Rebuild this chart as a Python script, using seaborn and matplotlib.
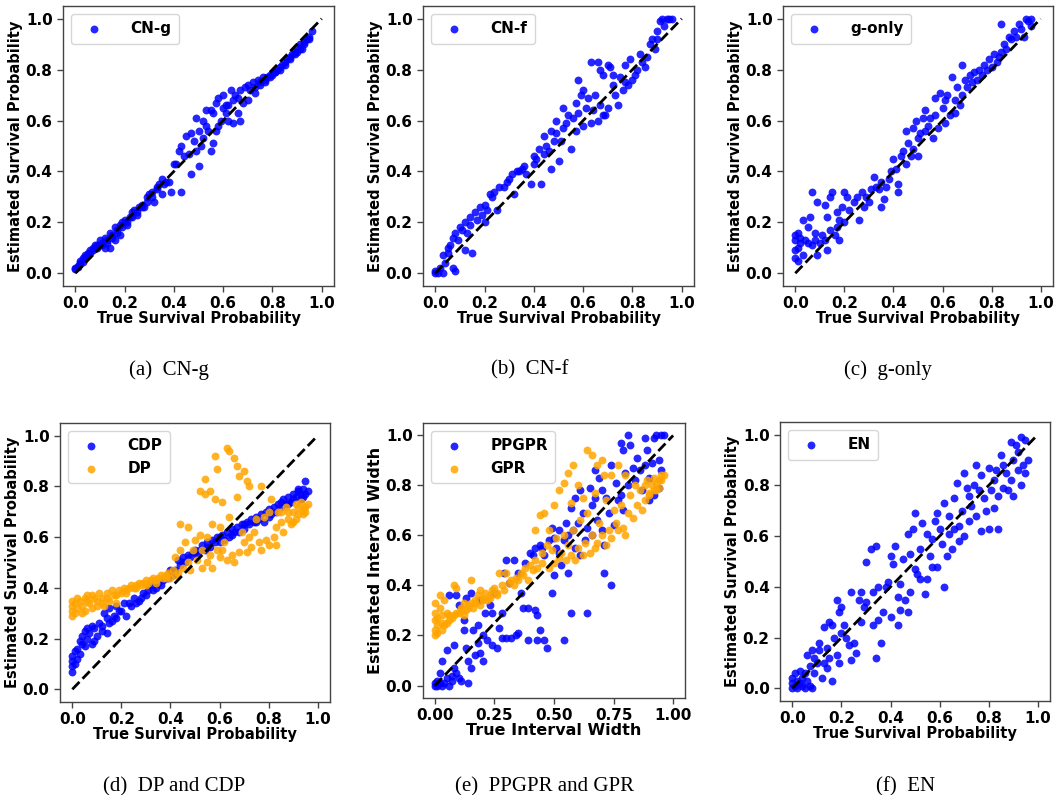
import matplotlib
matplotlib.use("Agg")
import matplotlib.pyplot as plt
import seaborn as sns

# ---------------------------------------------------------------- data
cng_true = [0.00, 0.00, 0.01, 0.01, 0.02, 0.02, 0.03, 0.03, 0.04, 0.04, 0.05, 0.05, 0.06, 0.07, 0.07, 0.08,
            0.09, 0.10, 0.10, 0.11, 0.12, 0.12, 0.13, 0.14, 0.14, 0.15, 0.16, 0.16, 0.17, 0.18, 0.18, 0.19,
            0.20, 0.21, 0.22, 0.23, 0.24, 0.25, 0.26, 0.27, 0.28, 0.29, 0.30, 0.31, 0.32, 0.33, 0.34, 0.35,
            0.35, 0.37, 0.38, 0.39, 0.40, 0.41, 0.42, 0.43, 0.43, 0.44, 0.45, 0.46, 0.47, 0.47, 0.48, 0.49,
            0.49, 0.50, 0.50, 0.51, 0.52, 0.53, 0.53, 0.54, 0.55, 0.56, 0.56, 0.57, 0.57, 0.58, 0.58, 0.59,
            0.60, 0.60, 0.61, 0.62, 0.62, 0.63, 0.64, 0.64, 0.65, 0.66, 0.67, 0.67, 0.68, 0.69, 0.70, 0.70,
            0.72, 0.73, 0.74, 0.75, 0.76, 0.77, 0.78, 0.79, 0.80, 0.81, 0.82, 0.83, 0.84, 0.85, 0.86, 0.87,
            0.88, 0.89, 0.90, 0.90, 0.91, 0.92, 0.93, 0.94, 0.95, 0.96,
            0.02, 0.04, 0.06, 0.08, 0.09, 0.11, 0.13, 0.15, 0.17, 0.19, 0.21, 0.23, 0.25, 0.27, 0.29, 0.31,
            0.33, 0.36, 0.71, 0.73, 0.75, 0.77, 0.79, 0.81, 0.83, 0.85, 0.87, 0.89, 0.91, 0.93, 0.95, 0.66,
            0.61, 0.55, 0.52]
cng_est = [0.015, 0.02, 0.03, 0.025, 0.04, 0.05, 0.045, 0.06, 0.06, 0.07, 0.08, 0.07, 0.09, 0.09, 0.10, 0.11,
           0.10, 0.13, 0.11, 0.12, 0.10, 0.14, 0.12, 0.16, 0.10, 0.14, 0.18, 0.13, 0.17, 0.19, 0.15, 0.20,
           0.21, 0.19, 0.22, 0.24, 0.25, 0.23, 0.26, 0.27, 0.26, 0.30, 0.31, 0.32, 0.28, 0.34, 0.35, 0.37,
           0.31, 0.36, 0.36, 0.32, 0.43, 0.43, 0.48, 0.32, 0.50, 0.46, 0.54, 0.47, 0.55, 0.39, 0.52, 0.61,
           0.48, 0.42, 0.56, 0.50, 0.53, 0.64, 0.58, 0.56, 0.48, 0.63, 0.51, 0.67, 0.56, 0.69, 0.58, 0.60,
           0.70, 0.65, 0.63, 0.66, 0.60, 0.72, 0.68, 0.59, 0.70, 0.63, 0.72, 0.60, 0.67, 0.73, 0.68, 0.74,
           0.75, 0.71, 0.76, 0.74, 0.77, 0.75, 0.77, 0.78, 0.78, 0.79, 0.80, 0.81, 0.82, 0.83, 0.84, 0.85,
           0.86, 0.87, 0.87, 0.89, 0.90, 0.88, 0.91, 0.92, 0.93, 0.95,
           0.035, 0.065, 0.08, 0.10, 0.11, 0.11, 0.13, 0.15, 0.16, 0.18, 0.20, 0.22, 0.24, 0.26, 0.28, 0.30,
           0.33, 0.35, 0.72, 0.73, 0.75, 0.76, 0.77, 0.79, 0.80, 0.82, 0.84, 0.86, 0.88, 0.90, 0.92, 0.69,
           0.66, 0.64, 0.60]

cnf_true = [0.00, 0.00, 0.01, 0.02, 0.03, 0.03, 0.04, 0.05, 0.05, 0.06, 0.07, 0.07, 0.08, 0.08, 0.09, 0.10,
            0.11, 0.12, 0.12, 0.13, 0.14, 0.14, 0.15, 0.16, 0.17, 0.18, 0.19, 0.20, 0.20, 0.21, 0.22, 0.23,
            0.24, 0.25, 0.26, 0.28, 0.29, 0.30, 0.31, 0.32, 0.33, 0.34, 0.35, 0.36, 0.37, 0.39, 0.40, 0.40,
            0.41, 0.42, 0.43, 0.44, 0.44, 0.45, 0.46, 0.47, 0.47, 0.48, 0.49, 0.49, 0.50, 0.51, 0.52, 0.52,
            0.53, 0.54, 0.55, 0.56, 0.57, 0.57, 0.58, 0.58, 0.59, 0.60, 0.60, 0.61, 0.62, 0.63, 0.63, 0.64,
            0.65, 0.66, 0.66, 0.67, 0.67, 0.68, 0.68, 0.69, 0.70, 0.70, 0.71, 0.72, 0.72, 0.73, 0.74, 0.75,
            0.76, 0.77, 0.77, 0.78, 0.79, 0.80, 0.81, 0.82, 0.83, 0.84, 0.85, 0.86, 0.87, 0.88, 0.89, 0.90,
            0.90, 0.91, 0.92, 0.93, 0.94, 0.95, 0.96]
cnf_est = [0.00, 0.01, 0.00, 0.02, 0.00, 0.07, 0.04, 0.10, 0.08, 0.11, 0.14, 0.02, 0.01, 0.16, 0.13, 0.18,
           0.17, 0.09, 0.20, 0.16, 0.22, 0.19, 0.08, 0.24, 0.21, 0.26, 0.23, 0.27, 0.20, 0.25, 0.31, 0.30,
           0.32, 0.25, 0.34, 0.34, 0.36, 0.37, 0.39, 0.31, 0.40, 0.40, 0.41, 0.42, 0.39, 0.35, 0.46, 0.43,
           0.45, 0.49, 0.35, 0.54, 0.47, 0.50, 0.48, 0.56, 0.41, 0.52, 0.60, 0.55, 0.44, 0.52, 0.65, 0.57,
           0.59, 0.62, 0.49, 0.61, 0.67, 0.56, 0.76, 0.63, 0.70, 0.72, 0.58, 0.65, 0.69, 0.83, 0.59, 0.64,
           0.70, 0.83, 0.60, 0.80, 0.66, 0.78, 0.62, 0.62, 0.82, 0.65, 0.81, 0.74, 0.78, 0.70, 0.66, 0.77,
           0.72, 0.82, 0.75, 0.74, 0.84, 0.76, 0.78, 0.80, 0.86, 0.83, 0.81, 0.85, 0.90, 0.92, 0.88, 0.95,
           0.92, 0.99, 1.00, 0.97, 1.00, 1.00, 1.00]

gonly_true = [0.00, 0.00, 0.00, 0.00, 0.01, 0.01, 0.01, 0.02, 0.02, 0.03, 0.03, 0.04, 0.05, 0.05, 0.06, 0.07,
              0.07, 0.08, 0.08, 0.09, 0.09, 0.10, 0.11, 0.12, 0.12, 0.13, 0.13, 0.14, 0.14, 0.15, 0.16, 0.17,
              0.17, 0.18, 0.18, 0.19, 0.20, 0.20, 0.21, 0.22, 0.24, 0.25, 0.26, 0.27, 0.28, 0.29, 0.30, 0.31,
              0.32, 0.33, 0.34, 0.35, 0.35, 0.36, 0.37, 0.38, 0.39, 0.40, 0.41, 0.42, 0.42, 0.43, 0.44, 0.45,
              0.45, 0.46, 0.47, 0.48, 0.48, 0.49, 0.50, 0.50, 0.51, 0.52, 0.53, 0.53, 0.54, 0.55, 0.56, 0.57,
              0.57, 0.58, 0.59, 0.60, 0.61, 0.61, 0.62, 0.63, 0.64, 0.65, 0.65, 0.66, 0.67, 0.68, 0.68, 0.69,
              0.70, 0.71, 0.72, 0.73, 0.74, 0.75, 0.76, 0.77, 0.78, 0.79, 0.80, 0.81, 0.82, 0.83, 0.84, 0.84,
              0.85, 0.86, 0.87, 0.88, 0.89, 0.90, 0.91, 0.92, 0.93, 0.94, 0.95, 0.96, 0.96]
gonly_est = [0.06, 0.09, 0.13, 0.15, 0.05, 0.10, 0.16, 0.12, 0.14, 0.07, 0.21, 0.13, 0.12, 0.18, 0.22, 0.11,
             0.32, 0.16, 0.13, 0.07, 0.28, 0.12, 0.15, 0.13, 0.27, 0.09, 0.22, 0.30, 0.17, 0.32, 0.15, 0.18,
             0.24, 0.21, 0.13, 0.26, 0.20, 0.32, 0.30, 0.25, 0.28, 0.30, 0.21, 0.32, 0.26, 0.30, 0.28, 0.33,
             0.38, 0.34, 0.33, 0.26, 0.36, 0.29, 0.34, 0.37, 0.40, 0.45, 0.41, 0.35, 0.32, 0.46, 0.48, 0.43,
             0.56, 0.51, 0.46, 0.57, 0.49, 0.60, 0.53, 0.46, 0.55, 0.61, 0.64, 0.56, 0.58, 0.61, 0.53, 0.69,
             0.62, 0.57, 0.71, 0.65, 0.68, 0.59, 0.70, 0.62, 0.77, 0.68, 0.63, 0.73, 0.66, 0.82, 0.70, 0.76,
             0.73, 0.78, 0.75, 0.79, 0.76, 0.80, 0.78, 0.82, 0.80, 0.84, 0.81, 0.86, 0.83, 0.85, 0.98, 0.87,
             0.90, 0.88, 0.93, 0.92, 0.95, 0.93, 0.98, 0.96, 0.93, 1.00, 0.99, 1.00, 0.97]

cdp_true = [0.00, 0.00, 0.00, 0.00, 0.01, 0.01, 0.02, 0.03, 0.03, 0.04, 0.05, 0.05, 0.06, 0.07, 0.08, 0.08,
            0.09, 0.10, 0.11, 0.12, 0.13, 0.14, 0.14, 0.15, 0.16, 0.17, 0.18, 0.19, 0.20, 0.21, 0.22, 0.23,
            0.24, 0.25, 0.27, 0.28, 0.29, 0.30, 0.32, 0.33, 0.34, 0.35, 0.36, 0.38, 0.39, 0.40, 0.41, 0.42,
            0.43, 0.44, 0.45, 0.46, 0.47, 0.48, 0.49, 0.50, 0.51, 0.52, 0.53, 0.54, 0.55, 0.56, 0.57, 0.58,
            0.59, 0.60, 0.61, 0.62, 0.63, 0.64, 0.65, 0.66, 0.67, 0.68, 0.69, 0.70, 0.71, 0.72, 0.73, 0.74,
            0.75, 0.76, 0.77, 0.78, 0.79, 0.80, 0.81, 0.82, 0.83, 0.84, 0.85, 0.86, 0.87, 0.88, 0.89, 0.90,
            0.91, 0.92, 0.93, 0.94, 0.95, 0.95, 0.96,
            0.02, 0.04, 0.06, 0.09, 0.12, 0.15, 0.18, 0.26, 0.31, 0.37, 0.45, 0.50, 0.55, 0.60, 0.65, 0.70,
            0.75, 0.80, 0.85, 0.88, 0.90, 0.92, 0.93, 0.94]
cdp_est = [0.07, 0.09, 0.11, 0.13, 0.10, 0.15, 0.12, 0.19, 0.14, 0.21, 0.17, 0.23, 0.20, 0.22, 0.18, 0.25,
           0.24, 0.21, 0.26, 0.25, 0.30, 0.22, 0.28, 0.32, 0.27, 0.29, 0.33, 0.31, 0.31, 0.34, 0.29, 0.34,
           0.33, 0.36, 0.35, 0.36, 0.38, 0.37, 0.41, 0.39, 0.40, 0.42, 0.41, 0.44, 0.44, 0.47, 0.45, 0.47,
           0.51, 0.49, 0.52, 0.50, 0.53, 0.52, 0.54, 0.55, 0.53, 0.55, 0.57, 0.55, 0.58, 0.56, 0.59, 0.58,
           0.60, 0.58, 0.61, 0.59, 0.62, 0.60, 0.63, 0.62, 0.64, 0.62, 0.65, 0.63, 0.66, 0.65, 0.67, 0.66,
           0.68, 0.67, 0.69, 0.66, 0.70, 0.71, 0.69, 0.72, 0.70, 0.73, 0.72, 0.75, 0.73, 0.76, 0.74, 0.77,
           0.76, 0.78, 0.75, 0.79, 0.82, 0.77, 0.78,
           0.16, 0.18, 0.24, 0.19, 0.23, 0.26, 0.28, 0.34, 0.39, 0.43, 0.50, 0.54, 0.56, 0.60, 0.61, 0.65,
           0.66, 0.68, 0.74, 0.73, 0.75, 0.79, 0.77, 0.76]

dp_true = [0.00, 0.00, 0.00, 0.01, 0.01, 0.02, 0.03, 0.04, 0.05, 0.05, 0.06, 0.07, 0.08, 0.08, 0.09, 0.10,
           0.11, 0.12, 0.13, 0.14, 0.15, 0.16, 0.17, 0.18, 0.19, 0.20, 0.21, 0.22, 0.23, 0.24, 0.25, 0.26,
           0.27, 0.28, 0.29, 0.30, 0.31, 0.32, 0.33, 0.34, 0.35, 0.36, 0.37, 0.38, 0.39, 0.40, 0.41, 0.42,
           0.43, 0.44, 0.44, 0.45, 0.46, 0.47, 0.47, 0.48, 0.49, 0.50, 0.51, 0.52, 0.52, 0.53, 0.53, 0.54,
           0.54, 0.55, 0.55, 0.56, 0.56, 0.57, 0.57, 0.58, 0.58, 0.59, 0.59, 0.60, 0.60, 0.61, 0.61, 0.62,
           0.63, 0.63, 0.64, 0.64, 0.65, 0.66, 0.66, 0.67, 0.67, 0.68, 0.68, 0.69, 0.70, 0.70, 0.71, 0.71,
           0.72, 0.72, 0.73, 0.74, 0.75, 0.76, 0.77, 0.77, 0.78, 0.79, 0.80, 0.80, 0.81, 0.82, 0.83, 0.83,
           0.84, 0.85, 0.86, 0.87, 0.88, 0.89, 0.90, 0.91, 0.91, 0.92, 0.93, 0.94, 0.95, 0.96,
           0.00, 0.02, 0.04, 0.06, 0.10, 0.12, 0.14, 0.18, 0.22, 0.26, 0.30, 0.34, 0.38, 0.42, 0.85, 0.88,
           0.90, 0.92, 0.94, 0.95]
dp_est = [0.29, 0.31, 0.33, 0.30, 0.34, 0.32, 0.35, 0.33, 0.36, 0.31, 0.35, 0.34, 0.37, 0.32, 0.36, 0.35,
          0.38, 0.36, 0.33, 0.38, 0.35, 0.39, 0.37, 0.34, 0.39, 0.38, 0.40, 0.39, 0.40, 0.41, 0.40, 0.41,
          0.42, 0.41, 0.42, 0.43, 0.42, 0.43, 0.44, 0.43, 0.44, 0.45, 0.44, 0.45, 0.46, 0.44, 0.47, 0.52,
          0.46, 0.65, 0.55, 0.48, 0.58, 0.64, 0.50, 0.47, 0.55, 0.59, 0.51, 0.61, 0.78, 0.48, 0.55, 0.83,
          0.77, 0.60, 0.50, 0.78, 0.53, 0.65, 0.48, 0.92, 0.75, 0.87, 0.55, 0.64, 0.52, 0.74, 0.55, 0.58,
          0.95, 0.51, 0.94, 0.68, 0.53, 0.91, 0.50, 0.88, 0.76, 0.84, 0.54, 0.62, 0.86, 0.58, 0.82, 0.54,
          0.80, 0.60, 0.56, 0.62, 0.67, 0.58, 0.80, 0.55, 0.68, 0.59, 0.57, 0.70, 0.75, 0.60, 0.64, 0.57,
          0.70, 0.66, 0.62, 0.72, 0.67, 0.65, 0.70, 0.73, 0.67, 0.69, 0.74, 0.71, 0.72, 0.73,
          0.35, 0.36, 0.30, 0.37, 0.33, 0.34, 0.36, 0.37, 0.38, 0.40, 0.41, 0.42, 0.44, 0.45, 0.70, 0.70,
          0.66, 0.72, 0.69, 0.70]

ppgpr_true = [0.00, 0.00, 0.01, 0.01, 0.02, 0.02, 0.03, 0.03, 0.04, 0.05, 0.05, 0.06, 0.06, 0.07, 0.07, 0.08,
              0.08, 0.09, 0.09, 0.10, 0.10, 0.11, 0.12, 0.12, 0.13, 0.13, 0.14, 0.14, 0.15, 0.15, 0.16, 0.17,
              0.18, 0.18, 0.19, 0.19, 0.20, 0.20, 0.21, 0.22, 0.23, 0.24, 0.24, 0.25, 0.26, 0.27, 0.28, 0.28,
              0.29, 0.30, 0.30, 0.31, 0.32, 0.33, 0.34, 0.35, 0.35, 0.36, 0.37, 0.38, 0.39, 0.39, 0.40, 0.41,
              0.42, 0.42, 0.43, 0.43, 0.44, 0.44, 0.45, 0.46, 0.46, 0.47, 0.48, 0.49, 0.49, 0.50, 0.50, 0.51,
              0.52, 0.52, 0.53, 0.54, 0.54, 0.55, 0.56, 0.56, 0.57, 0.57, 0.58, 0.59, 0.59, 0.60, 0.61, 0.61,
              0.62, 0.63, 0.64, 0.64, 0.65, 0.66, 0.66, 0.67, 0.67, 0.68, 0.69, 0.70, 0.70, 0.71, 0.71, 0.72,
              0.73, 0.74, 0.74, 0.75, 0.76, 0.77, 0.78, 0.78, 0.79, 0.79, 0.80, 0.81, 0.81, 0.82, 0.83, 0.84,
              0.85, 0.86, 0.87, 0.88, 0.88, 0.89, 0.90, 0.90, 0.91, 0.92, 0.92, 0.93, 0.94, 0.94, 0.95, 0.95,
              0.96]
ppgpr_est = [0.00, 0.01, 0.02, 0.00, 0.01, 0.05, 0.00, 0.10, 0.01, 0.03, 0.14, 0.00, 0.36, 0.04, 0.02, 0.07,
             0.16, 0.05, 0.36, 0.03, 0.32, 0.02, 0.22, 0.26, 0.15, 0.35, 0.01, 0.10, 0.07, 0.37, 0.22, 0.12,
             0.24, 0.17, 0.13, 0.34, 0.10, 0.20, 0.29, 0.18, 0.32, 0.16, 0.29, 0.37, 0.15, 0.23, 0.19, 0.29,
             0.45, 0.19, 0.50, 0.41, 0.19, 0.50, 0.20, 0.45, 0.21, 0.37, 0.31, 0.49, 0.31, 0.18, 0.53, 0.52,
             0.30, 0.55, 0.18, 0.28, 0.22, 0.56, 0.55, 0.52, 0.18, 0.15, 0.58, 0.37, 0.63, 0.59, 0.44, 0.55,
             0.62, 0.53, 0.48, 0.18, 0.58, 0.65, 0.60, 0.45, 0.29, 0.71, 0.62, 0.75, 0.55, 0.65, 0.78, 0.52,
             0.69, 0.58, 0.29, 0.63, 0.79, 0.72, 0.60, 0.86, 0.75, 0.66, 0.83, 0.62, 0.78, 0.45, 0.56, 0.75,
             0.69, 0.40, 0.88, 0.64, 0.81, 0.74, 0.97, 0.76, 0.94, 0.70, 0.85, 1.00, 0.80, 0.96, 0.87, 0.82,
             0.91, 0.86, 0.78, 0.99, 0.88, 0.94, 0.83, 0.74, 0.89, 0.99, 0.76, 1.00, 0.90, 0.79, 1.00, 0.86,
             1.00]

gpr_true = [0.00, 0.00, 0.00, 0.00, 0.00, 0.01, 0.01, 0.02, 0.02, 0.03, 0.03, 0.04, 0.04, 0.05, 0.05, 0.06,
            0.07, 0.08, 0.08, 0.09, 0.10, 0.11, 0.12, 0.12, 0.13, 0.14, 0.15, 0.15, 0.16, 0.17, 0.18, 0.19,
            0.19, 0.20, 0.21, 0.22, 0.23, 0.24, 0.25, 0.26, 0.27, 0.28, 0.29, 0.30, 0.31, 0.32, 0.33, 0.34,
            0.35, 0.36, 0.37, 0.38, 0.39, 0.40, 0.41, 0.42, 0.42, 0.43, 0.44, 0.45, 0.45, 0.46, 0.47, 0.48,
            0.48, 0.49, 0.50, 0.50, 0.51, 0.52, 0.52, 0.53, 0.54, 0.54, 0.55, 0.56, 0.56, 0.57, 0.57, 0.58,
            0.58, 0.59, 0.60, 0.60, 0.61, 0.62, 0.62, 0.63, 0.64, 0.64, 0.65, 0.66, 0.66, 0.67, 0.67, 0.68,
            0.68, 0.69, 0.70, 0.70, 0.71, 0.72, 0.72, 0.73, 0.74, 0.74, 0.75, 0.76, 0.77, 0.77, 0.78, 0.79,
            0.80, 0.80, 0.81, 0.82, 0.83, 0.84, 0.85, 0.86, 0.87, 0.88, 0.89, 0.90, 0.91, 0.92, 0.93, 0.94,
            0.95, 0.96,
            0.01, 0.03, 0.06, 0.09, 0.11, 0.14, 0.17, 0.20, 0.23, 0.26, 0.88, 0.90, 0.92, 0.93, 0.94, 0.95]
gpr_est = [0.20, 0.22, 0.26, 0.29, 0.33, 0.21, 0.24, 0.31, 0.36, 0.22, 0.28, 0.24, 0.34, 0.25, 0.29, 0.26,
           0.27, 0.28, 0.40, 0.39, 0.29, 0.31, 0.28, 0.33, 0.30, 0.32, 0.33, 0.42, 0.31, 0.34, 0.36, 0.32,
           0.38, 0.35, 0.37, 0.34, 0.36, 0.38, 0.39, 0.37, 0.45, 0.40, 0.38, 0.45, 0.41, 0.42, 0.40, 0.43,
           0.42, 0.45, 0.44, 0.47, 0.42, 0.48, 0.46, 0.62, 0.50, 0.47, 0.68, 0.53, 0.49, 0.69, 0.56, 0.47,
           0.62, 0.54, 0.49, 0.72, 0.59, 0.78, 0.51, 0.53, 0.81, 0.60, 0.50, 0.85, 0.56, 0.73, 0.52, 0.88,
           0.62, 0.50, 0.80, 0.55, 0.66, 0.52, 0.75, 0.57, 0.94, 0.69, 0.53, 0.92, 0.60, 0.77, 0.55, 0.88,
           0.57, 0.65, 0.90, 0.60, 0.84, 0.56, 0.74, 0.62, 0.84, 0.59, 0.70, 0.65, 0.88, 0.62, 0.72, 0.63,
           0.84, 0.60, 0.69, 0.76, 0.67, 0.80, 0.72, 0.78, 0.70, 0.74, 0.82, 0.77, 0.80, 0.83, 0.78, 0.82,
           0.84, 0.84,
           0.27, 0.25, 0.28, 0.29, 0.30, 0.31, 0.33, 0.34, 0.35, 0.36, 0.80, 0.76, 0.78, 0.81, 0.79, 0.82]

en_true = [0.00, 0.00, 0.00, 0.01, 0.01, 0.02, 0.02, 0.03, 0.03, 0.04, 0.04, 0.05, 0.05, 0.06, 0.06, 0.07,
           0.07, 0.08, 0.08, 0.09, 0.09, 0.10, 0.11, 0.11, 0.12, 0.13, 0.13, 0.14, 0.14, 0.15, 0.15, 0.16,
           0.16, 0.17, 0.18, 0.18, 0.19, 0.19, 0.20, 0.20, 0.21, 0.22, 0.23, 0.24, 0.24, 0.25, 0.26, 0.27,
           0.28, 0.28, 0.29, 0.30, 0.30, 0.32, 0.33, 0.33, 0.34, 0.34, 0.35, 0.35, 0.36, 0.37, 0.38, 0.39,
           0.40, 0.40, 0.41, 0.42, 0.43, 0.43, 0.44, 0.44, 0.45, 0.46, 0.47, 0.47, 0.48, 0.48, 0.49, 0.50,
           0.50, 0.51, 0.52, 0.52, 0.53, 0.54, 0.55, 0.55, 0.56, 0.57, 0.57, 0.58, 0.59, 0.59, 0.60, 0.61,
           0.62, 0.62, 0.63, 0.64, 0.64, 0.65, 0.66, 0.66, 0.67, 0.68, 0.68, 0.69, 0.70, 0.70, 0.71, 0.72,
           0.72, 0.73, 0.74, 0.75, 0.75, 0.76, 0.77, 0.77, 0.78, 0.79, 0.80, 0.80, 0.81, 0.82, 0.82, 0.83,
           0.84, 0.84, 0.85, 0.86, 0.86, 0.87, 0.88, 0.89, 0.89, 0.90, 0.90, 0.91, 0.92, 0.92, 0.93, 0.93,
           0.94, 0.95, 0.95, 0.96]
en_est = [0.00, 0.02, 0.04, 0.01, 0.06, 0.00, 0.03, 0.02, 0.07, 0.01, 0.04, 0.00, 0.06, 0.03, 0.13, 0.09,
          0.01, 0.00, 0.15, 0.06, 0.12, 0.10, 0.15, 0.18, 0.04, 0.24, 0.10, 0.16, 0.08, 0.26, 0.12, 0.03,
          0.25, 0.20, 0.35, 0.13, 0.30, 0.10, 0.32, 0.22, 0.25, 0.20, 0.17, 0.38, 0.11, 0.18, 0.14, 0.35,
          0.38, 0.26, 0.32, 0.50, 0.34, 0.55, 0.38, 0.25, 0.56, 0.12, 0.40, 0.27, 0.18, 0.30, 0.40, 0.42,
          0.28, 0.52, 0.49, 0.56, 0.36, 0.25, 0.41, 0.31, 0.51, 0.35, 0.30, 0.61, 0.53, 0.38, 0.63, 0.47,
          0.69, 0.45, 0.55, 0.43, 0.65, 0.37, 0.61, 0.43, 0.52, 0.59, 0.48, 0.66, 0.69, 0.48, 0.63, 0.57,
          0.40, 0.73, 0.52, 0.68, 0.61, 0.55, 0.75, 0.63, 0.81, 0.64, 0.58, 0.70, 0.60, 0.85, 0.79, 0.76,
          0.66, 0.72, 0.80, 0.88, 0.68, 0.78, 0.62, 0.84, 0.75, 0.70, 0.87, 0.63, 0.78, 0.82, 0.71, 0.86,
          0.63, 0.76, 0.92, 0.79, 0.88, 0.85, 0.78, 0.97, 0.82, 0.76, 0.90, 0.96, 0.86, 0.93, 0.99, 0.80,
          0.88, 0.98, 0.85, 0.90]

captions = ["(a)  CN-g", "(b)  CN-f", "(c)  g-only",
            "(d)  DP and CDP", "(e)  PPGPR and GPR", "(f)  EN"]
prob_ticks = [0.0, 0.2, 0.4, 0.6, 0.8, 1.0]
width_ticks = [0.0, 0.25, 0.5, 0.75, 1.0]
width_ticklabels = ["0.00", "0.25", "0.50", "0.75", "1.00"]

# ---------------------------------------------------------------- style
sns.set_style("white")
plt.rcParams['font.family'] = ['DejaVu Sans']
plt.rcParams['font.weight'] = 'bold'
plt.rcParams['axes.labelweight'] = 'bold'
plt.rcParams['axes.edgecolor'] = '#444444'
plt.rcParams['axes.linewidth'] = 1.0
plt.rcParams['text.color'] = 'black'
plt.rcParams['axes.labelcolor'] = 'black'
plt.rcParams['xtick.color'] = 'black'
plt.rcParams['ytick.color'] = 'black'
plt.rcParams['xtick.bottom'] = True
plt.rcParams['ytick.left'] = True

BLUE = "#0000ff"
ORANGE = "#ffa500"

fig = plt.figure(figsize=(10.57, 7.95), dpi=100)

# axes rectangles in figure fractions
boxes = [
    [0.0596, 0.6403, 0.2564, 0.3522],
    [0.4002, 0.6403, 0.2564, 0.3522],
    [0.7408, 0.6403, 0.2554, 0.3522],
    [0.0568, 0.1170, 0.2554, 0.3510],
    [0.4002, 0.1220, 0.2479, 0.3460],
    [0.7380, 0.1182, 0.2554, 0.3510],
]

panels = [
    [(cng_true, cng_est, "CN-g", BLUE)],
    [(cnf_true, cnf_est, "CN-f", BLUE)],
    [(gonly_true, gonly_est, "g-only", BLUE)],
    [(cdp_true, cdp_est, "CDP", BLUE), (dp_true, dp_est, "DP", ORANGE)],
    [(ppgpr_true, ppgpr_est, "PPGPR", BLUE), (gpr_true, gpr_est, "GPR", ORANGE)],
    [(en_true, en_est, "EN", BLUE)],
]

for i, (box, series) in enumerate(zip(boxes, panels)):
    ax = fig.add_axes(box)
    for xs, ys, name, col in series:
        sns.scatterplot(x=xs, y=ys, ax=ax, color=col, s=32, linewidth=0,
                        alpha=0.85, label=name)
    ax.plot([0, 1], [0, 1], 'k--', lw=2)
    ax.set_yticks(prob_ticks)
    if i == 4:
        ax.set_xticks(width_ticks)
        ax.set_xticklabels(width_ticklabels)
        ax.set_xlabel("True Interval Width", fontsize=11.5, labelpad=0)
        ax.set_ylabel("Estimated Interval Width", fontsize=11.5, labelpad=2)
    else:
        ax.set_xticks(prob_ticks)
        ax.set_xlabel("True Survival Probability", fontsize=10.5, labelpad=0)
        ax.set_ylabel("Estimated Survival Probability", fontsize=10.5, labelpad=2)
    ax.tick_params(labelsize=11, length=4, width=1, color='#444444')
    for lab in ax.get_xticklabels() + ax.get_yticklabels():
        lab.set_fontweight('bold')
    leg = ax.legend(loc='upper left', fontsize=11, handletextpad=1.4,
                    borderpad=0.5, frameon=True, fancybox=True)
    for t in leg.get_texts():
        t.set_fontweight('bold')

# figure captions in a Times-like serif
cap_pos = [(0.160, 0.5346), (0.501, 0.5346), (0.840, 0.5346),
           (0.165, 0.0100), (0.515, 0.0100), (0.857, 0.0100)]
for (cx, cy), txt in zip(cap_pos, captions):
    fig.text(cx, cy, txt, ha='center', va='center', fontsize=15,
             family=['Liberation Serif', 'DejaVu Serif'], fontweight='normal')

plt.savefig("out.png", dpi=100)
